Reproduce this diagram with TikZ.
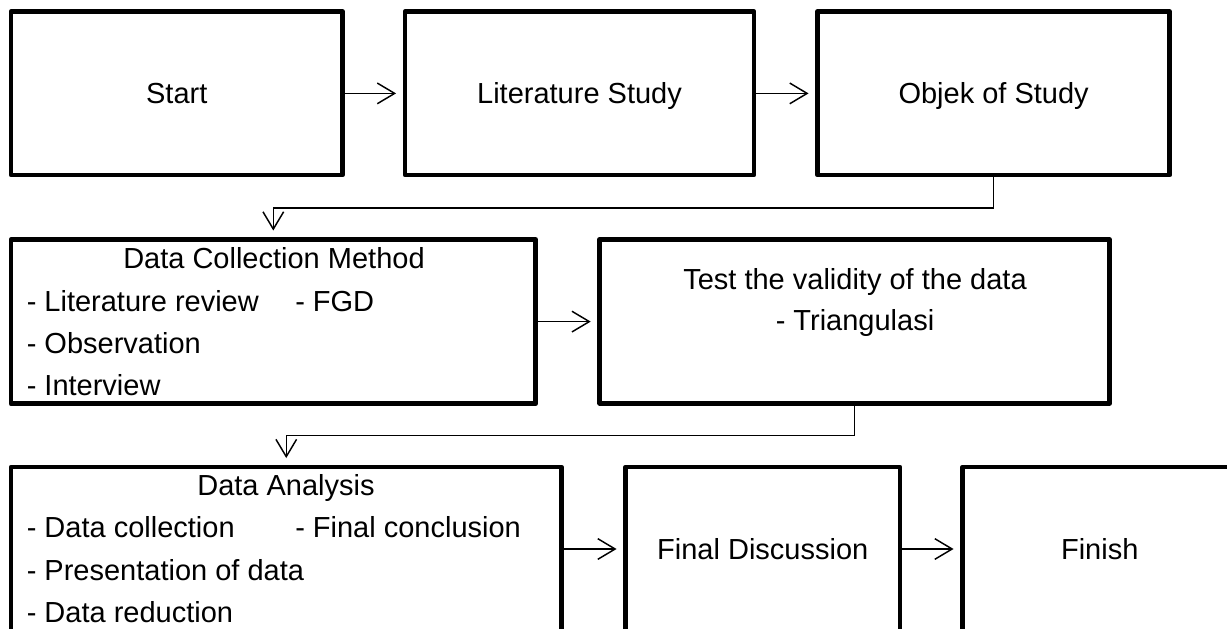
\documentclass[tikz,border=0pt]{standalone}
\usepackage{fontspec}
\setmainfont{Liberation Sans}
\usetikzlibrary{arrows.meta}
\newcommand{\flowfont}{\fontsize{21.75}{26}\selectfont}
\tikzset{
    stagebox/.style={draw, line width=3.5pt, line join=round, inner sep=0pt, outer sep=0pt, font=\flowfont, text height=15.6pt, text depth=0pt},
    stagetext/.style={inner sep=0pt, font=\flowfont, text height=15.6pt, text depth=0pt},
    flowarrow/.style={-{Straight Barb[length=13pt,width=15.5pt]}, line width=1.1pt, shorten >=6.7pt},
}

\begin{document}
\begin{tikzpicture}[x=0.75pt,y=0.75pt,yscale=-1,xscale=1]
\useasboundingbox (0,0) rectangle (1227,628);
\clip (0,0) rectangle (1227,628);

%Shape: Rectangle (first row)
\node [stagebox, minimum width=248.6pt, minimum height=122.5pt] (start) at (176.75,93.4) {Start};
%Shape: Rectangle
\node [stagebox, minimum width=261.75pt, minimum height=122.5pt] (litstudy) at (579.5,93.4) {Literature Study};
%Shape: Rectangle
\node [stagebox, minimum width=264.2pt, minimum height=122.5pt] (objek) at (993.6,93.4) {Objek of Study};

%Shape: Rectangle (second row)
\node [stagebox, minimum width=393.5pt, minimum height=123.2pt] (dcm) at (273.3,321.6) {};
\node [stagetext] (dcmtitle) at (274,258.3) {Data Collection Method};
\node [stagetext, anchor=west] (dcmlit) at (26.5,300.8) {- Literature review};
\node [stagetext, anchor=west] (dcmfgd) at (295,300.8) {- FGD};
\node [stagetext, anchor=west] (dcmobs) at (26.5,342.8) {- Observation};
\node [stagetext, anchor=west] (dcmint) at (26.5,384.7) {- Interview};
%Shape: Rectangle
\node [stagebox, minimum width=382.4pt, minimum height=122.8pt] (validity) at (854.6,321.4) {};
\node [stagetext] (valtitle) at (855,279.3) {Test the validity of the data};
\node [stagetext] (valtri) at (855,320) {- Triangulasi};

%Shape: Rectangle (third row)
\node [stagebox, minimum width=412.9pt, minimum height=123pt] (analysis) at (286.25,549) {};
\node [stagetext] (datitle) at (286,485.5) {Data Analysis};
\node [stagetext, anchor=west] (dacoll) at (26.5,527.5) {- Data collection};
\node [stagetext, anchor=west] (daconc) at (295,527.5) {- Final conclusion};
\node [stagetext, anchor=west] (dapres) at (26.5,570.3) {- Presentation of data};
\node [stagetext, anchor=west] (dared) at (26.5,612.5) {- Data reduction};
%Shape: Rectangle
\node [stagebox, minimum width=205.9pt, minimum height=123pt] (discussion) at (762.75,549) {Final Discussion};
%Shape: Rectangle
\node [stagebox, minimum width=205.9pt, minimum height=123pt] (finish) at (1099.75,549) {Finish};

%Straight Lines
\draw [flowarrow] (start.east) -- (litstudy.west);
\draw [flowarrow] (litstudy.east) -- (objek.west);
%Connector: elbow down to the second row
\draw [flowarrow] (objek.south) -- ++(0,33) -| (dcm.north);
\draw [flowarrow] (dcm.east) -- (dcm.east -| validity.west);
%Connector: elbow down to the third row
\draw [flowarrow] (validity.south) -- ++(0,32) -| (analysis.north);
\draw [flowarrow] (analysis.east) -- (discussion.west);
\draw [flowarrow] (discussion.east) -- (finish.west);



\end{tikzpicture}
\end{document}
